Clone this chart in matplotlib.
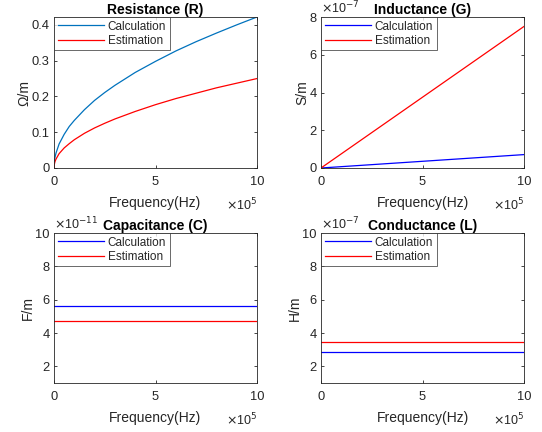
import matplotlib
matplotlib.use("Agg")
import matplotlib.pyplot as plt
from matplotlib.ticker import FuncFormatter

# ---- data ----
freq_R = [0, 0.02e5, 0.05e5, 0.1e5, 0.25e5, 0.5e5, 0.75e5, 1e5, 1.5e5, 2e5, 2.5e5, 3e5, 4e5, 5e5,
          6e5, 7e5, 8e5, 9e5, 10e5]
R_calc = [0, 0.019, 0.030, 0.042, 0.067, 0.094, 0.116, 0.133, 0.163, 0.189, 0.211, 0.231, 0.267,
          0.298, 0.327, 0.353, 0.377, 0.400, 0.422]
R_est = [0, 0.011, 0.018, 0.025, 0.040, 0.056, 0.068, 0.079, 0.097, 0.112, 0.125, 0.137, 0.158,
         0.177, 0.194, 0.209, 0.224, 0.237, 0.250]

freq_lin = [0, 10e5]
G_calc = [0, 0.71e-7]
G_est = [0, 7.5e-7]
C_calc = [5.62e-11, 5.62e-11]
C_est = [4.72e-11, 4.72e-11]
L_calc = [2.86e-7, 2.86e-7]
L_est = [3.44e-7, 3.44e-7]

titles = ["Resistance (R)", "Inductance (G)", "Capacitance (C)", "Conductance (L)"]
ylabels = ["\u03a9/m", "S/m", "F/m", "H/m"]
xlabel = "Frequency(Hz)"
legend_labels = ["Calculation", "Estimation"]

plt.rcParams['font.family'] = ['Liberation Sans', 'DejaVu Sans']
AX = '#262626'
MBLUE = '#0072BD'

fig = plt.figure(figsize=(5.42, 4.32), dpi=100)
W, H = 542, 432
boxes = [(54, 17, 257, 168), (321, 17, 524, 168), (54, 233, 257, 383), (321, 233, 524, 383)]
axes = []
for (l, t, r, b) in boxes:
    axes.append(fig.add_axes([l / W, 1 - b / H, (r - l) / W, (b - t) / H]))

specs = [
    (freq_R, R_calc, R_est, MBLUE, (0, 0.422), [0, 0.1, 0.2, 0.3, 0.4], 1, None),
    (freq_lin, G_calc, G_est, '#0000FF', (0, 8e-7), [0, 2e-7, 4e-7, 6e-7, 8e-7], 1e-7, '-7'),
    (freq_lin, C_calc, C_est, '#0000FF', (1e-11, 10e-11), [2e-11, 4e-11, 6e-11, 8e-11, 10e-11], 1e-11, '-11'),
    (freq_lin, L_calc, L_est, '#0000FF', (1e-7, 10e-7), [2e-7, 4e-7, 6e-7, 8e-7, 10e-7], 1e-7, '-7'),
]

for i, ax in enumerate(axes):
    x, yc, ye, cc, ylim, yt, scale, yexp = specs[i]
    ax.plot(x, yc, color=cc, lw=0.9, label=legend_labels[0])
    ax.plot(x, ye, color='#FF0000', lw=0.9, label=legend_labels[1])
    ax.set_xlim(0, 10e5)
    ax.set_ylim(*ylim)
    ax.set_xticks([0, 5e5, 10e5])
    ax.xaxis.set_major_formatter(FuncFormatter(lambda v, p: '%g' % round(v / 1e5, 6)))
    ax.set_yticks(yt)
    if scale == 1:
        ax.yaxis.set_major_formatter(FuncFormatter(lambda v, p: '0' if v == 0 else '%.1f' % v))
    else:
        ax.yaxis.set_major_formatter(FuncFormatter(lambda v, p, s=scale: '%g' % round(v / s, 6)))
    ax.tick_params(direction='in', length=2.5, width=0.6, colors=AX, labelsize=9.3,
                   top=True, right=True)
    ax.tick_params(axis='x', pad=6)
    ax.tick_params(axis='y', pad=3)
    for sp in ax.spines.values():
        sp.set_color(AX)
        sp.set_linewidth(0.6)
    ax.set_title(titles[i], fontsize=10, fontweight='bold', color='black', pad=2.5)
    ax.set_xlabel(xlabel, fontsize=10, color=AX, labelpad=5.5)
    ax.set_ylabel(ylabels[i], fontsize=10, color=AX, labelpad=0.5)
    ax.text(1.0, -0.245, r'$\times$10$^{5}$', transform=ax.transAxes, ha='right', va='center',
            fontsize=9, color=AX)
    if yexp is not None:
        ax.text(0.0, 1.005, r'$\times$10$^{%s}$' % yexp, transform=ax.transAxes, ha='left', va='bottom',
                fontsize=9, color=AX)
    leg = ax.legend(loc='upper left', fontsize=8.5, frameon=True, fancybox=False,
                    borderaxespad=0, handlelength=3.9, handletextpad=0.35,
                    borderpad=0.3, labelspacing=0.2)
    leg.get_frame().set_edgecolor(AX)
    leg.get_frame().set_linewidth(0.6)
    for t in leg.get_texts():
        t.set_color(AX)

fig.savefig('out.png', dpi=100)
